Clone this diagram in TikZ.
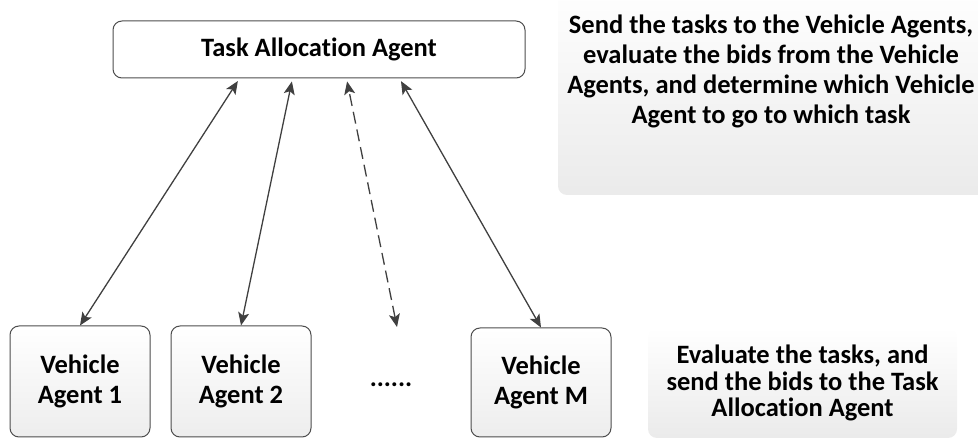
\documentclass[tikz,border=0pt]{standalone}
\usepackage{fontspec}
\setmainfont{Carlito}[Ligatures=NoCommon]
\usepackage{xcolor}
\definecolor{ink}{HTML}{404040}
\definecolor{edge}{HTML}{4D4D4D}
\usetikzlibrary{arrows.meta, positioning, calc}
\tikzset{
  >={Stealth[length=13pt, width=11pt, inset=3pt]},
  txt/.style={font=\fontsize{26.5}{30}\selectfont\bfseries, align=center, inner sep=0pt},
  agentbox/.style={txt, draw=edge, line width=1pt, rounded corners=9pt,
    top color=white, bottom color=black!7, minimum width=140pt, minimum height=111pt},
  note/.style={top color=white, bottom color=black!8, rounded corners=9pt},
  link/.style={<->, line width=1.3pt, color=ink, shorten >=3pt},
}

\begin{document}
\begin{tikzpicture}[x=1pt, y=1pt]
  \useasboundingbox (0,0) rectangle (978,-438);

  % Grey notes on the right.
  \shade[note] (558,15) rectangle (995,-195);
  \node[txt] (plantext) at (771,-71)
    {Send the tasks to the Vehicle Agents,\\evaluate the bids from the Vehicle\\Agents, and determine which Vehicle\\Agent to go to which task};
  \node[txt, note, font=\fontsize{26.5}{26.5}\selectfont\bfseries, minimum width=309pt, minimum height=110pt]
    (evaltext) at (802.5,-383) {Evaluate the tasks, and\\send the bids to the Task\\Allocation Agent};

  % The agents.
  \node[txt, draw=edge, line width=1pt, rounded corners=9pt, fill=white,
    minimum width=412pt, minimum height=57pt] (taa) at (319,-49.5) {Task Allocation Agent};
  \node[agentbox] (va1) at (80,-381.5) {Vehicle\\Agent 1};
  \node[agentbox, right=20pt of va1] (va2) {Vehicle\\Agent 2};
  \node[agentbox, right=159pt of va2, minimum height=109pt, yshift=-1pt] (vam) {Vehicle\\Agent M};
  \node[txt] (dots) at ($(va2.east)!0.5!(vam.west)+(0,-3)$) {......};
  \coordinate (gap) at (397,-327);

  % Messages both ways.
  \draw[link] (va1.north) -- ([xshift=127pt]taa.south west);
  \draw[link] (va2.north) -- ([xshift=180pt]taa.south west);
  \draw[link, dash pattern=on 12pt off 6pt] (gap) -- ([xshift=234pt]taa.south west);
  \draw[link] (vam.north) -- ([xshift=287pt]taa.south west);
\end{tikzpicture}
\end{document}
